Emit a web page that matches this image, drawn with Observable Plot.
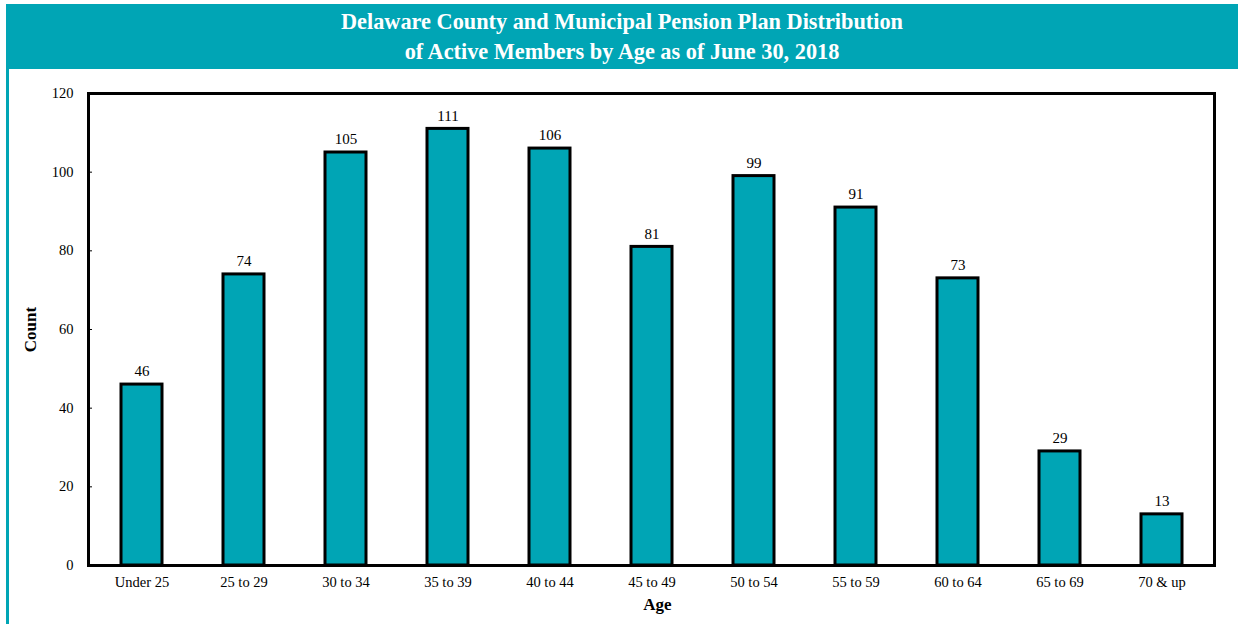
<!DOCTYPE html>
<html>
<head>
<meta charset="utf-8">
<script src="https://cdn.jsdelivr.net/npm/d3@7"></script>
<script src="https://cdn.jsdelivr.net/npm/@observablehq/plot@0.6"></script>
<style>
  html, body { margin: 0; padding: 0; background: #fff; width: 1238px; height: 624px; overflow: hidden; }
  #header { position: absolute; left: 6px; top: 4px; width: 1232px; height: 65px; background: #00A5B5;
    color: #fff; font-family: "Liberation Serif", serif; font-weight: bold; font-size: 22.3px; line-height: 30px;
    text-align: center; padding-top: 3px; box-sizing: border-box; }
  #leftline { position: absolute; left: 6px; top: 69px; width: 3px; height: 555px; background: #00A5B5; }
  #chart { position: absolute; left: 0; top: 69px; }
</style>
</head>
<body>
<div id="header">Delaware County and Municipal Pension Plan Distribution<br>of Active Members by Age as of June 30, 2018</div>
<div id="leftline"></div>
<div id="chart"></div>
<script>
const categories = ["Under 25", "25 to 29", "30 to 34", "35 to 39", "40 to 44", "45 to 49", "50 to 54", "55 to 59", "60 to 64", "65 to 69", "70 & up"];
const counts = [46, 74, 105, 111, 106, 81, 99, 91, 73, 29, 13];
const yTicks = [0, 20, 40, 60, 80, 100, 120];

const data = categories.map((c, i) => ({age: c, count: counts[i]}));

const chart = Plot.plot({
  width: 1238,
  height: 555,
  marginTop: 24,
  marginBottom: 59,
  marginLeft: 88,
  marginRight: 24,
  style: {fontFamily: "Liberation Serif, serif", fontSize: "15px", color: "#000", background: "transparent"},
  x: {domain: categories, paddingInner: 0.6, paddingOuter: 0.3},
  y: {domain: [0, 120]},
  marks: [
    Plot.axisY({ticks: yTicks, tickSize: 0, tickPadding: 15, fontSize: 14.5, label: null}),
    Plot.axisY({ticks: yTicks, tickSize: 4, dx: 4, tickFormat: () => "", label: null}),
    Plot.axisX({tickSize: 0, tickPadding: 11, fontSize: 14.5, label: null}),
    Plot.text(["Count"], {frameAnchor: "left", dx: -58, rotate: -90, fontWeight: "bold", fontSize: 17, textAnchor: "middle"}),
    Plot.text(["Age"], {frameAnchor: "bottom", dx: 6, dy: 44, fontWeight: "bold", fontSize: 17}),
    Plot.barY(data, {x: "age", y: "count", fill: "#00A5B5", stroke: "#000", strokeWidth: 3}),
    Plot.text(data, {x: "age", y: "count", text: d => String(d.count), dy: -13, fontSize: 15}),
    Plot.frame({stroke: "#000", strokeWidth: 3})
  ]
});
document.getElementById("chart").appendChild(chart);
</script>
</body>
</html>
